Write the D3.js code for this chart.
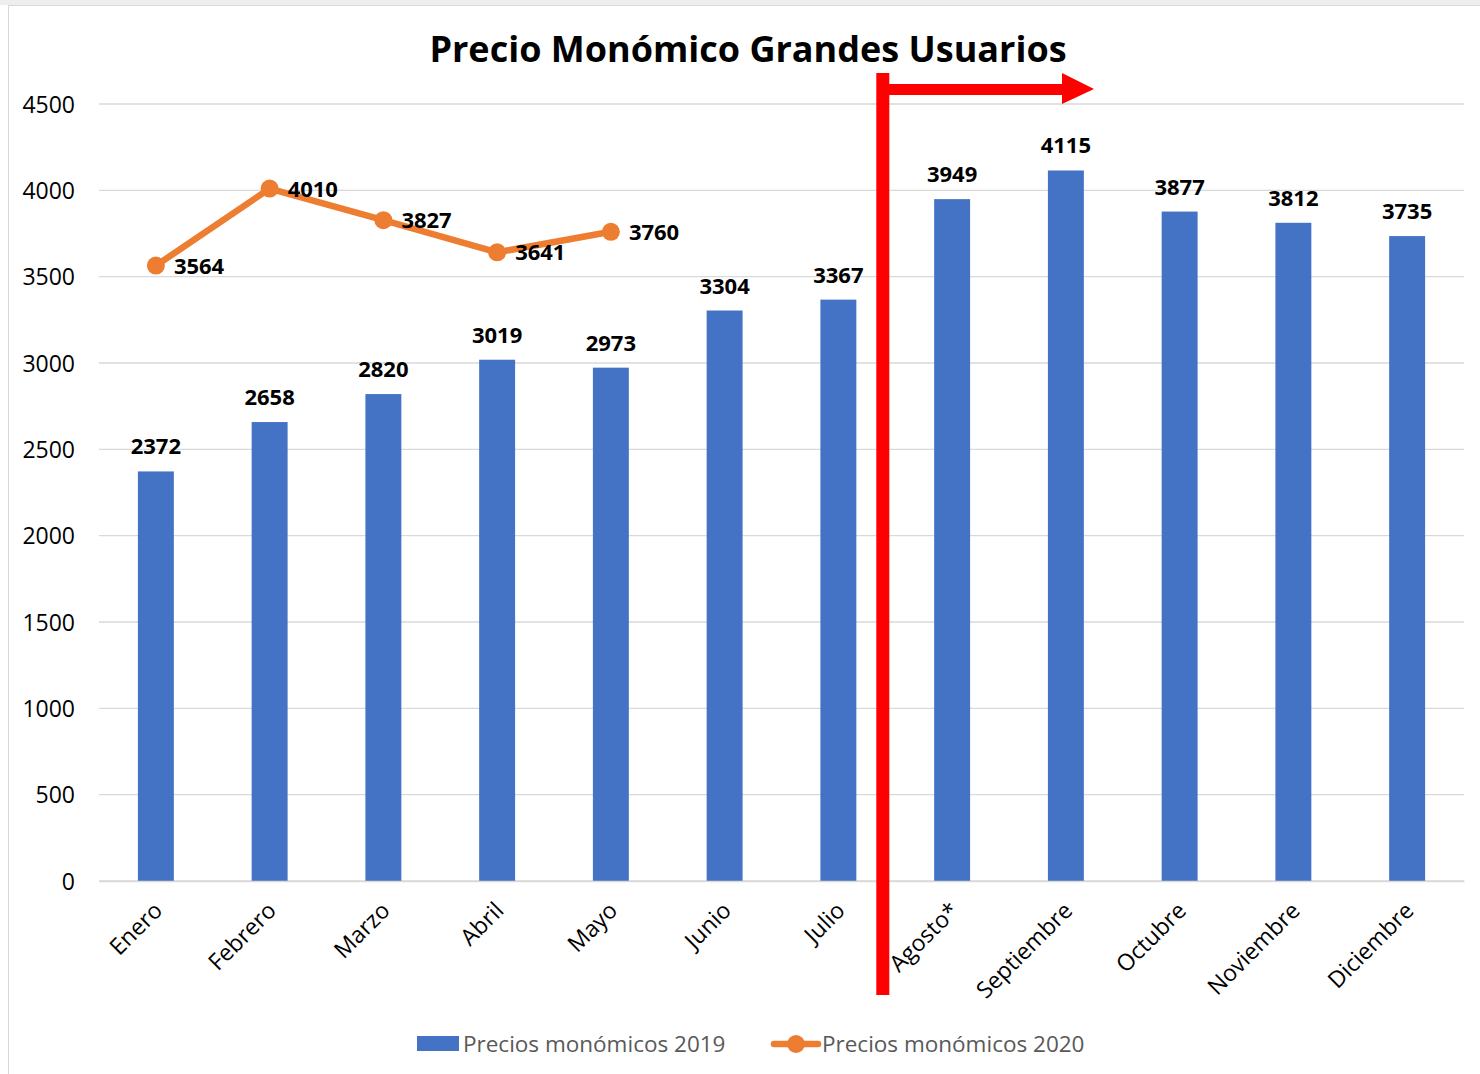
<!DOCTYPE html>
<html><head><meta charset="utf-8">
<script src="https://cdn.jsdelivr.net/npm/d3@7"></script>
<style>body{margin:0;background:#fff}svg{display:block}</style>
</head><body>
<svg id="c" width="1480" height="1074"></svg>
<script>
const months = ["Enero","Febrero","Marzo","Abril","Mayo","Junio","Julio","Agosto*","Septiembre","Octubre","Noviembre","Diciembre"];
const prices2019 = [2372,2658,2820,3019,2973,3304,3367,3949,4115,3877,3812,3735];
const months2020 = ["Enero","Febrero","Marzo","Abril","Mayo"];
const prices2020 = [3564,4010,3827,3641,3760];
const yTicks = [0,500,1000,1500,2000,2500,3000,3500,4000,4500];
const titleText = "Precio Monómico Grandes Usuarios";
const seriesNames = ["Precios monómicos 2019","Precios monómicos 2020"];

const font = "'Open Sans', sans-serif";
const svg = d3.select("#c");
// outer frame
svg.append("rect").attr("x",0).attr("y",0).attr("width",1480).attr("height",5).attr("fill","#eeeeee");
svg.append("rect").attr("x",8.5).attr("y",5.5).attr("width",1480).attr("height",1080).attr("fill","#fff").attr("stroke","#d9d9d9");

const x = d3.scaleBand().domain(months).range([99,1464]).paddingInner(0.684).paddingOuter(0.342);
const y = d3.scaleLinear().domain([0,4500]).range([881,104]);

// gridlines
svg.append("g").selectAll("line").data(yTicks).join("line")
  .attr("x1",99).attr("x2",1464).attr("y1",d=>y(d)).attr("y2",d=>y(d))
  .attr("stroke","#d9d9d9").attr("stroke-width",1.3);

// y axis labels
const yAxis = d3.axisLeft(y).tickValues(yTicks).tickSize(0).tickPadding(0).tickFormat(d3.format("d"));
const gy = svg.append("g").attr("transform","translate(75,0)").call(yAxis);
gy.select(".domain").remove();
gy.selectAll("text").attr("font-family",font).attr("font-size",23).attr("fill","#000").attr("dy","0.35em");

// bars
svg.append("g").selectAll("rect").data(prices2019).join("rect")
  .attr("x",(d,i)=>x(months[i])).attr("width",x.bandwidth())
  .attr("y",d=>y(d)).attr("height",d=>y(0)-y(d)).attr("fill","#4472C4");
svg.append("g").selectAll("text").data(prices2019).join("text")
  .attr("x",(d,i)=>x(months[i])+x.bandwidth()/2).attr("y",d=>y(d)-17)
  .attr("text-anchor","middle").attr("font-family",font).attr("font-weight","bold")
  .attr("font-size",22).attr("fill","#000").text(d=>d);

// x axis labels
const xAxis = d3.axisBottom(x).tickSize(0).tickPadding(0);
const gx = svg.append("g").attr("transform","translate(0,881)").call(xAxis);
gx.select(".domain").attr("stroke","#d9d9d9").attr("stroke-width",1.3);
gx.selectAll("text").attr("font-family",font).attr("font-size",23).attr("fill","#000")
  .attr("text-anchor","end").attr("dy",0)
  .attr("transform","translate(8,31) rotate(-45)");

// line 2020
const cx = m => x(m)+x.bandwidth()/2;
const line = d3.line().x((d,i)=>cx(months2020[i])).y(d=>y(d));
svg.append("path").datum(prices2020).attr("d",line).attr("fill","none")
  .attr("stroke","#ED7D31").attr("stroke-width",6.5).attr("stroke-linejoin","round").attr("stroke-linecap","round");
svg.append("g").selectAll("circle").data(prices2020).join("circle")
  .attr("cx",(d,i)=>cx(months2020[i])).attr("cy",d=>y(d)).attr("r",9).attr("fill","#ED7D31");
svg.append("g").selectAll("text").data(prices2020).join("text")
  .attr("x",(d,i)=>cx(months2020[i])+18).attr("y",d=>y(d)+8)
  .attr("font-family",font).attr("font-weight","bold").attr("font-size",22).attr("fill","#000").text(d=>d);

// red marker line + arrow
const gapStart = x("Julio")+x.bandwidth(), gapEnd = x("Agosto*");
const rx = gapStart + (gapEnd-gapStart)*0.34;
svg.append("rect").attr("x",rx-6.5).attr("y",73).attr("width",13).attr("height",922).attr("fill","#FF0000");
svg.append("rect").attr("x",rx).attr("y",84).attr("width",1064-rx).attr("height",11).attr("fill","#FF0000");
svg.append("path").attr("d",`M1062,73 L1094,89 L1062,104 Z`).attr("fill","#FF0000");

// title
svg.append("text").attr("x",748).attr("y",62).attr("text-anchor","middle")
  .attr("font-family",font).attr("font-weight","bold").attr("font-size",36).attr("fill","#000").text(titleText);

// legend
const lg = svg.append("g");
lg.append("rect").attr("x",417).attr("y",1036).attr("width",42).attr("height",15).attr("fill","#4472C4");
lg.append("text").attr("x",463).attr("y",1052).attr("font-family",font).attr("font-size",22.5).attr("fill","#595959").text(seriesNames[0]);
lg.append("line").attr("x1",774).attr("x2",818).attr("y1",1044).attr("y2",1044).attr("stroke","#ED7D31").attr("stroke-width",6.5).attr("stroke-linecap","round");
lg.append("circle").attr("cx",796).attr("cy",1044).attr("r",9).attr("fill","#ED7D31");
lg.append("text").attr("x",822).attr("y",1052).attr("font-family",font).attr("font-size",22.5).attr("fill","#595959").text(seriesNames[1]);
</script>
</body></html>
